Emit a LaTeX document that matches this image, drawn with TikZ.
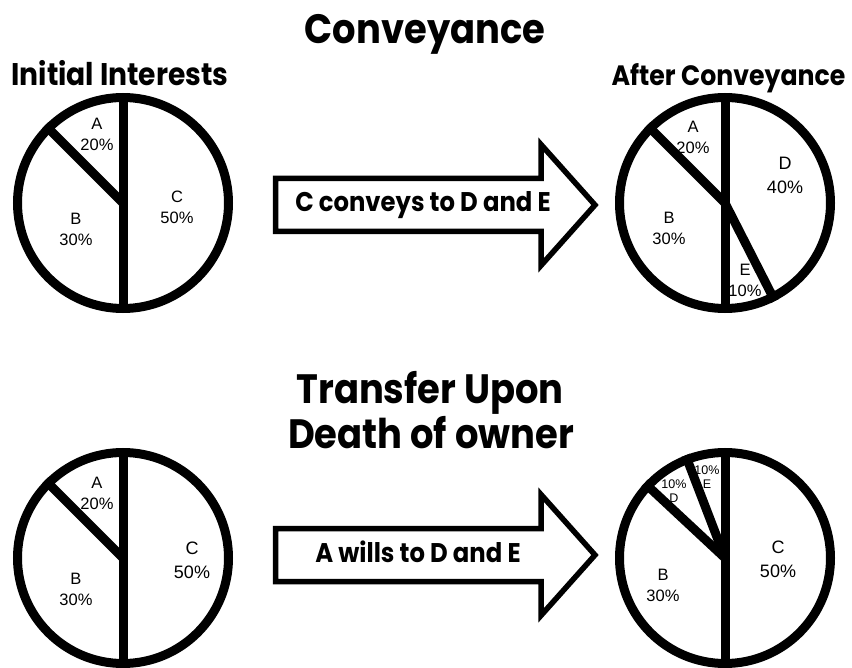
\documentclass[tikz,border=0pt]{standalone}
\usepackage{fontspec}
\setmainfont{Liberation Sans}
\newfontfamily\headfont{Poppins}[FakeStretch=0.9]
\begin{document}
\begin{tikzpicture}[x=1pt,y=-1pt,
  pie/.style={circle, draw, line width=9pt, minimum size=211pt, inner sep=0pt},
  cut/.style={line width=9pt},
  lbl/.style={align=center, inner sep=0pt, font=\fontsize{16.5}{21}\selectfont},
  biglbl/.style={lbl, font=\fontsize{18}{24}\selectfont},
  smalllbl/.style={align=center, inner sep=0pt, font=\fontsize{12.5}{14.5}\selectfont},
  bigtitle/.style={anchor=base, inner sep=0pt, font=\headfont\bfseries\fontsize{41}{45}\selectfont},
  subtitle/.style={anchor=base, inner sep=0pt, font=\headfont\bfseries\fontsize{#1}{34}\selectfont},
  arrowtext/.style={anchor=base, inner sep=0pt, font=\headfont\bfseries\fontsize{27}{30}\selectfont},
  arrowline/.style={draw, fill=white, line width=5.5pt, line join=miter},
  fatarrow/.pic={\path[arrowline] (0,-26.5) -- (265.5,-26.5) -- (265.5,-60.5) -- (319.5,0)
      -- (265.5,60.5) -- (265.5,26.5) -- (0,26.5) -- cycle;}
]
\useasboundingbox (0,0) rectangle (852,668);

% headings
\node[bigtitle] (conv) at (425,44) {Conveyance};
\node[subtitle=31.3] (init) at (120,86) {Initial Interests};
\node[subtitle=28] (after) at (728.5,86) {After Conveyance};
\node[bigtitle] (tr1) at (430,403) {Transfer Upon};
\node[bigtitle] (tr2) at (431,448) {Death of owner};

% upper row: before the conveyance
\node[pie] (p1) at (123,203) {};
\draw[cut] (p1.north) -- (p1.south);
\draw[cut] (p1.center) -- (p1.135);
\node[lbl] (p1a) at (97,134) {A\\20\%};
\node[lbl] (p1b) at (76,229) {B\\30\%};
\node[lbl] (p1c) at (177,207) {C\\50\%};

% upper row: after the conveyance
\node[pie] (p2) at (725,203) {};
\draw[cut] (p2.north) -- (p2.south);
\draw[cut] (p2.center) -- (p2.135);
\draw[cut] (p2.center) -- (p2.-63);
\node[lbl] (p2a) at (693,137) {A\\20\%};
\node[lbl] (p2b) at (669,228) {B\\30\%};
\node[biglbl] (p2d) at (785,175) {D\\40\%};
\node[lbl] (p2e) at (745,280) {E\\10\%};

% conveyance arrow
\pic at (275.5,205) {fatarrow};
\node[arrowtext] (t1) at (423,212) {C conveys to D and E};

% lower row: before the transfer
\node[pie] (p3) at (123,558) {};
\draw[cut] (p3.north) -- (p3.south);
\draw[cut] (p3.center) -- (p3.135);
\node[lbl] (p3a) at (97,493) {A\\20\%};
\node[lbl] (p3b) at (76,589) {B\\30\%};
\node[biglbl] (p3c) at (192,560) {C\\50\%};

% lower row: after the transfer
\node[pie] (p4) at (725,558) {};
\draw[cut] (p4.north) -- (p4.south);
\draw[cut] (p4.center) -- (p4.137);
\draw[cut] (p4.center) -- (p4.111);
\node[smalllbl] (p4e) at (707,477) {10\%\\E};
\node[smalllbl] (p4d) at (674,491) {10\%\\D};
\node[lbl] (p4b) at (663,585) {B\\30\%};
\node[biglbl] (p4c) at (778,559) {C\\50\%};

% transfer arrow
\pic at (275.5,555) {fatarrow};
\node[arrowtext] (t2) at (418,562) {A wills to D and E};
\end{tikzpicture}
\end{document}
